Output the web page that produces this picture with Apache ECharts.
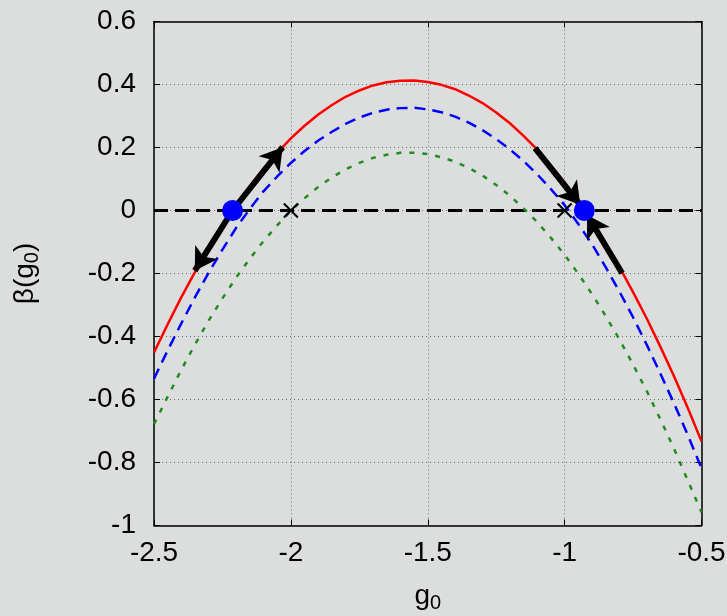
<!DOCTYPE html>
<html>
<head>
<meta charset="utf-8">
<script src="https://cdn.jsdelivr.net/npm/echarts@6/dist/echarts.min.js"></script>
<style>
  html, body { margin: 0; padding: 0; background: #dcdedd; }
  #chart { width: 727px; height: 616px; }
</style>
</head>
<body>
<div id="chart"></div>
<script>
var gValues = [-2.5, -2.45, -2.4, -2.35, -2.3, -2.25, -2.2, -2.15, -2.1, -2.05,
               -2.0, -1.95, -1.9, -1.85, -1.8, -1.75, -1.7, -1.65, -1.6, -1.55,
               -1.5, -1.45, -1.4, -1.35, -1.3, -1.25, -1.2, -1.15, -1.1, -1.05,
               -1.0, -0.95, -0.9, -0.85, -0.8, -0.75, -0.7, -0.65, -0.6, -0.55, -0.5];
var betaRed = [-0.451, -0.361, -0.275, -0.195, -0.119, -0.049, 0.017, 0.077, 0.133, 0.183,
               0.229, 0.269, 0.305, 0.335, 0.361, 0.381, 0.397, 0.407, 0.412, 0.413,
               0.408, 0.399, 0.385, 0.365, 0.341, 0.311, 0.277, 0.237, 0.193, 0.143,
               0.089, 0.029, -0.035, -0.105, -0.179, -0.259, -0.343, -0.433, -0.527, -0.627, -0.733];
var betaBlue = [-0.534, -0.444, -0.358, -0.275, -0.197, -0.124, -0.055, 0.005, 0.061, 0.108,
                0.151, 0.189, 0.222, 0.250, 0.275, 0.295, 0.310, 0.320, 0.325, 0.326,
                0.321, 0.312, 0.298, 0.279, 0.255, 0.227, 0.194, 0.157, 0.115, 0.068,
                0.017, -0.043, -0.107, -0.180, -0.257, -0.339, -0.426, -0.518, -0.613, -0.713, -0.818];
var betaGreen = [-0.678, -0.591, -0.505, -0.425, -0.349, -0.279, -0.213, -0.153, -0.097, -0.047,
                 -0.001, 0.039, 0.075, 0.105, 0.131, 0.151, 0.167, 0.177, 0.183, 0.183,
                 0.179, 0.169, 0.155, 0.135, 0.111, 0.081, 0.047, 0.007, -0.037, -0.087,
                 -0.141, -0.201, -0.265, -0.335, -0.409, -0.489, -0.573, -0.663, -0.757, -0.857, -0.958];

var fixedPointsX = [-2.213, -0.928];
var crossesX = [-2.0, -1.0];

// arrows: [from, to]
var arrowsOut = [
    [[-2.213, 0], [-2.03, 0.201]],
    [[-2.213, 0], [-2.351, -0.191]]
];
var arrowsIn = [
    [[-1.108, 0.198], [-0.943, 0.018]],
    [[-0.79, -0.199], [-0.918, -0.014]]
];

var xTicks = { min: -2.5, max: -0.5, step: 0.5 };
var yTicks = { min: -1, max: 0.6, step: 0.2 };

function zip(xs, ys) {
    return xs.map(function (x, i) { return [x, ys[i]]; });
}

function arrowData(list) {
    return list.map(function (a) {
        return [{ coord: a[0] }, { coord: a[1] }];
    });
}

var font = 'Liberation Sans, Arial, Helvetica, sans-serif';
var gridLine = { show: true, lineStyle: { color: '#6a6a6a', type: [1, 3], width: 1 } };
var frame = { show: true, onZero: false, lineStyle: { color: '#000', width: 1.5 } };
var ticksIn = { show: true, inside: true, length: 6, lineStyle: { color: '#000', width: 1 } };
var subStyle = { fontSize: 20, fontFamily: font, color: '#000', padding: [14, 0, 0, 0] };

var chart = echarts.init(document.getElementById('chart'), null, { renderer: 'canvas' });

var option = {
    backgroundColor: '#dcdedd',
    animation: false,
    grid: { left: 154, right: 25.5, top: 21.5, bottom: 90.5, outerBoundsMode: 'none', containLabel: false },
    xAxis: [{
        type: 'value',
        min: xTicks.min, max: xTicks.max, interval: xTicks.step,
        axisLine: frame,
        axisTick: ticksIn,
        splitLine: gridLine,
        axisLabel: { color: '#000', fontSize: 28, fontFamily: font, margin: 14 },
        name: 'g{sub|0}',
        nameLocation: 'middle',
        nameGap: 54,
        nameTextStyle: {
            color: '#000', fontSize: 28, fontFamily: font,
            rich: { sub: subStyle }
        }
    }, {
        type: 'value', position: 'top',
        min: xTicks.min, max: xTicks.max, interval: xTicks.step,
        axisLine: frame, axisTick: ticksIn, axisLabel: { show: false }, splitLine: { show: false }
    }],
    yAxis: [{
        type: 'value',
        min: yTicks.min, max: yTicks.max, interval: yTicks.step,
        axisLine: frame,
        axisTick: ticksIn,
        splitLine: gridLine,
        axisLabel: { color: '#000', fontSize: 28, fontFamily: font, margin: 18 },
        name: 'β(g{sub|0})',
        nameLocation: 'middle',
        nameGap: 112,
        nameTextStyle: {
            color: '#000', fontSize: 28, fontFamily: font,
            rich: { sub: subStyle }
        }
    }, {
        type: 'value', position: 'right',
        min: yTicks.min, max: yTicks.max, interval: yTicks.step,
        axisLine: frame, axisTick: ticksIn, axisLabel: { show: false }, splitLine: { show: false }
    }],
    series: [
        {
            name: 'zero', type: 'line', symbol: 'none', z: 2,
            data: [[xTicks.min, 0], [xTicks.max, 0]],
            lineStyle: { color: '#000', width: 3, type: [14, 7] }
        },
        {
            name: 'green', type: 'line', symbol: 'none', z: 3,
            data: zip(gValues, betaGreen),
            lineStyle: { color: '#228b22', width: 2.5, type: [5, 8] }
        },
        {
            name: 'blue', type: 'line', symbol: 'none', z: 3,
            data: zip(gValues, betaBlue),
            lineStyle: { color: '#0000ff', width: 2.5, type: [11, 7] }
        },
        {
            name: 'red', type: 'line', symbol: 'none', z: 3,
            data: zip(gValues, betaRed),
            lineStyle: { color: '#ff0000', width: 2.5 }
        },
        {
            name: 'crosses', type: 'scatter', z: 4,
            symbol: 'path://M0,0L10,10M10,0L0,10',
            symbolSize: 14,
            itemStyle: { color: 'none', borderColor: '#000', borderWidth: 2, opacity: 1 },
            data: crossesX.map(function (x) { return [x, 0]; })
        },
        {
            name: 'arrowsOut', type: 'line', data: [], z: 5,
            markLine: {
                silent: true, animation: false,
                symbol: ['none', 'arrow'], symbolSize: [20, 22],
                label: { show: false },
                lineStyle: { color: '#000', width: 6, type: 'solid' },
                data: arrowData(arrowsOut)
            }
        },
        {
            name: 'points', type: 'scatter', z: 6,
            symbol: 'circle', symbolSize: 21,
            itemStyle: { color: '#0000ff', opacity: 1 },
            data: fixedPointsX.map(function (x) { return [x, 0]; })
        },
        {
            name: 'arrowsIn', type: 'line', data: [], z: 7,
            markLine: {
                silent: true, animation: false,
                symbol: ['none', 'arrow'], symbolSize: [20, 22],
                label: { show: false },
                lineStyle: { color: '#000', width: 6, type: 'solid' },
                data: arrowData(arrowsIn)
            }
        }
    ]
};

chart.setOption(option);
</script>
</body>
</html>
